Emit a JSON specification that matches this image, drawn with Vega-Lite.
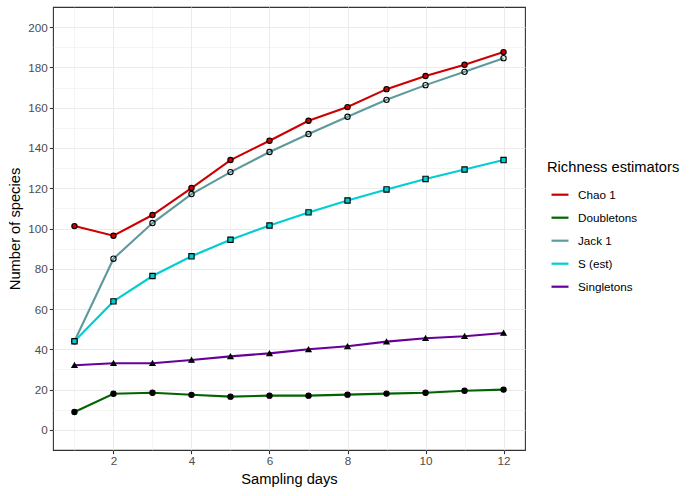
{
  "$schema": "https://vega.github.io/schema/vega-lite/v6.json",
  "width": 472,
  "height": 443,
  "autosize": "none",
  "padding": {"left": 53, "top": 7, "right": 170, "bottom": 46},
  "background": "white",
  "config": {
    "font": "Liberation Sans",
    "view": {"stroke": "#333333", "strokeWidth": 1.1},
    "axis": {
      "domain": false,
      "gridColor": "#EBEBEB",
      "labelColor": "#4D4D4D",
      "labelFontSize": 11.7,
      "tickColor": "#333333",
      "tickSize": 3.7,
      "tickWidth": 1.1,
      "titleColor": "black",
      "titleFontSize": 14.7,
      "titleFontWeight": "normal"
    },
    "legend": {
      "titleFontSize": 14.7,
      "titleFontWeight": "normal",
      "titleColor": "black",
      "labelFontSize": 11.7,
      "labelColor": "black"
    }
  },
  "data": {
    "values": [
      {"day": 1, "value": 101.2, "estimator": "Chao 1"},
      {"day": 2, "value": 96.4, "estimator": "Chao 1"},
      {"day": 3, "value": 106.7, "estimator": "Chao 1"},
      {"day": 4, "value": 120.1, "estimator": "Chao 1"},
      {"day": 5, "value": 134.0, "estimator": "Chao 1"},
      {"day": 6, "value": 143.6, "estimator": "Chao 1"},
      {"day": 7, "value": 153.5, "estimator": "Chao 1"},
      {"day": 8, "value": 160.3, "estimator": "Chao 1"},
      {"day": 9, "value": 169.2, "estimator": "Chao 1"},
      {"day": 10, "value": 175.7, "estimator": "Chao 1"},
      {"day": 11, "value": 181.3, "estimator": "Chao 1"},
      {"day": 12, "value": 187.6, "estimator": "Chao 1"},
      {"day": 1, "value": 8.9, "estimator": "Doubletons"},
      {"day": 2, "value": 17.9, "estimator": "Doubletons"},
      {"day": 3, "value": 18.4, "estimator": "Doubletons"},
      {"day": 4, "value": 17.4, "estimator": "Doubletons"},
      {"day": 5, "value": 16.5, "estimator": "Doubletons"},
      {"day": 6, "value": 17.0, "estimator": "Doubletons"},
      {"day": 7, "value": 17.0, "estimator": "Doubletons"},
      {"day": 8, "value": 17.5, "estimator": "Doubletons"},
      {"day": 9, "value": 18.0, "estimator": "Doubletons"},
      {"day": 10, "value": 18.4, "estimator": "Doubletons"},
      {"day": 11, "value": 19.4, "estimator": "Doubletons"},
      {"day": 12, "value": 20.0, "estimator": "Doubletons"},
      {"day": 1, "value": 44.0, "estimator": "Jack 1"},
      {"day": 2, "value": 85.0, "estimator": "Jack 1"},
      {"day": 3, "value": 102.7, "estimator": "Jack 1"},
      {"day": 4, "value": 117.1, "estimator": "Jack 1"},
      {"day": 5, "value": 128.0, "estimator": "Jack 1"},
      {"day": 6, "value": 138.0, "estimator": "Jack 1"},
      {"day": 7, "value": 146.9, "estimator": "Jack 1"},
      {"day": 8, "value": 155.5, "estimator": "Jack 1"},
      {"day": 9, "value": 163.9, "estimator": "Jack 1"},
      {"day": 10, "value": 171.2, "estimator": "Jack 1"},
      {"day": 11, "value": 177.8, "estimator": "Jack 1"},
      {"day": 12, "value": 184.6, "estimator": "Jack 1"},
      {"day": 1, "value": 44.0, "estimator": "S (est)"},
      {"day": 2, "value": 63.8, "estimator": "S (est)"},
      {"day": 3, "value": 76.4, "estimator": "S (est)"},
      {"day": 4, "value": 86.2, "estimator": "S (est)"},
      {"day": 5, "value": 94.4, "estimator": "S (est)"},
      {"day": 6, "value": 101.5, "estimator": "S (est)"},
      {"day": 7, "value": 108.0, "estimator": "S (est)"},
      {"day": 8, "value": 113.9, "estimator": "S (est)"},
      {"day": 9, "value": 119.4, "estimator": "S (est)"},
      {"day": 10, "value": 124.6, "estimator": "S (est)"},
      {"day": 11, "value": 129.3, "estimator": "S (est)"},
      {"day": 12, "value": 134.0, "estimator": "S (est)"},
      {"day": 1, "value": 32.1, "estimator": "Singletons"},
      {"day": 2, "value": 33.1, "estimator": "Singletons"},
      {"day": 3, "value": 33.1, "estimator": "Singletons"},
      {"day": 4, "value": 34.7, "estimator": "Singletons"},
      {"day": 5, "value": 36.5, "estimator": "Singletons"},
      {"day": 6, "value": 38.0, "estimator": "Singletons"},
      {"day": 7, "value": 40.0, "estimator": "Singletons"},
      {"day": 8, "value": 41.5, "estimator": "Singletons"},
      {"day": 9, "value": 43.8, "estimator": "Singletons"},
      {"day": 10, "value": 45.5, "estimator": "Singletons"},
      {"day": 11, "value": 46.5, "estimator": "Singletons"},
      {"day": 12, "value": 48.1, "estimator": "Singletons"}
    ]
  },
  "encoding": {
    "x": {
      "field": "day",
      "type": "quantitative",
      "scale": {"domain": [0.45, 12.55], "nice": false, "zero": false},
      "axis": {
        "title": "Sampling days",
        "values": [1, 2, 3, 4, 5, 6, 7, 8, 9, 10, 11, 12],
        "labelExpr": "datum.value % 2 == 0 ? datum.label : ''",
        "tickOpacity": {"condition": {"test": "datum.value % 2 == 0", "value": 1}, "value": 0},
        "gridWidth": {"condition": {"test": "datum.value % 2 == 0", "value": 1.07}, "value": 0.55},
        "labelPadding": 2,
        "titlePadding": 4
      }
    },
    "y": {
      "field": "value",
      "type": "quantitative",
      "scale": {"domain": [-10, 210], "nice": false, "zero": false},
      "axis": {
        "title": "Number of species",
        "values": [0, 10, 20, 30, 40, 50, 60, 70, 80, 90, 100, 110, 120, 130, 140, 150, 160, 170, 180, 190, 200],
        "labelExpr": "datum.value % 20 == 0 ? datum.label : ''",
        "tickOpacity": {"condition": {"test": "datum.value % 20 == 0", "value": 1}, "value": 0},
        "gridWidth": {"condition": {"test": "datum.value % 20 == 0", "value": 1.07}, "value": 0.55},
        "labelPadding": 2,
        "titlePadding": 5
      }
    }
  },
  "layer": [
    {
      "mark": {"type": "line", "strokeWidth": 2.1},
      "encoding": {
        "color": {
          "field": "estimator",
          "type": "nominal",
          "scale": {
            "domain": ["Chao 1", "Doubletons", "Jack 1", "S (est)", "Singletons"],
            "range": ["#CD0000", "#006400", "#5F9A9A", "#00CED1", "#660099"]
          },
          "legend": {
            "title": "Richness estimators",
            "orient": "none",
            "legendX": 494,
            "legendY": 153,
            "padding": 0,
            "symbolType": "stroke",
            "symbolSize": 289,
            "symbolStrokeWidth": 2.2,
            "symbolOffset": 3,
            "labelOffset": 8,
            "titlePadding": 10,
            "rowPadding": 6
          }
        }
      }
    },
    {
      "mark": {"type": "point", "filled": false, "stroke": "black", "strokeWidth": 1.1, "size": 28, "opacity": 1},
      "encoding": {
        "shape": {
          "field": "estimator",
          "type": "nominal",
          "scale": {
            "domain": ["Singletons", "S (est)", "Jack 1", "Doubletons", "Chao 1"],
            "range": ["triangle-up", "square", "circle", "circle", "circle"]
          },
          "legend": null
        },
        "fill": {
          "field": "estimator",
          "type": "nominal",
          "scale": {
            "domain": ["Jack 1", "Singletons", "S (est)", "Doubletons", "Chao 1"],
            "range": ["rgba(0,0,0,0)", "black", "#00CED1", "black", "#CD0000"]
          },
          "legend": null
        }
      }
    }
  ]
}
